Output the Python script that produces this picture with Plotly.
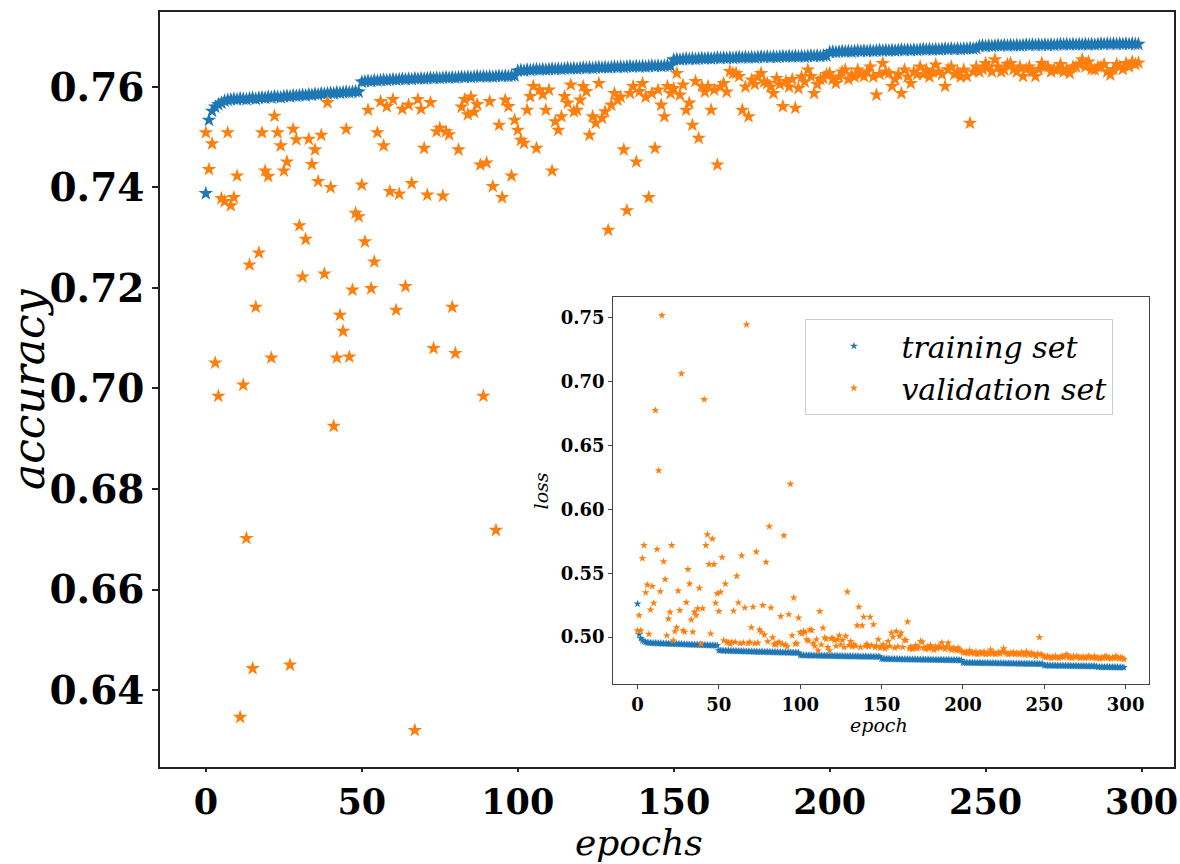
import plotly.graph_objects as go

epochs = list(range(300))

train_acc = [
0.7388, 0.7534, 0.7552, 0.7560, 0.7565, 0.7568, 0.7572, 0.7574, 0.7575, 0.7576,
0.7575, 0.7577, 0.7576, 0.7575, 0.7577, 0.7578, 0.7576, 0.7578, 0.7579, 0.7578,
0.7580, 0.7579, 0.7581, 0.7580, 0.7579, 0.7581, 0.7582, 0.7581, 0.7583, 0.7582,
0.7583, 0.7584, 0.7583, 0.7585, 0.7584, 0.7586, 0.7585, 0.7587, 0.7586, 0.7587,
0.7588, 0.7587, 0.7589, 0.7588, 0.7589, 0.7590, 0.7589, 0.7590, 0.7591, 0.7590,
0.7610, 0.7611, 0.7612, 0.7611, 0.7613, 0.7612, 0.7613, 0.7614, 0.7613, 0.7614,
0.7615, 0.7614, 0.7615, 0.7616, 0.7615, 0.7616, 0.7615, 0.7617, 0.7616, 0.7617,
0.7616, 0.7617, 0.7618, 0.7617, 0.7618, 0.7617, 0.7618, 0.7619, 0.7618, 0.7619,
0.7618, 0.7619, 0.7620, 0.7619, 0.7620, 0.7619, 0.7620, 0.7621, 0.7620, 0.7621,
0.7620, 0.7621, 0.7620, 0.7621, 0.7622, 0.7621, 0.7622, 0.7621, 0.7622, 0.7622,
0.7632, 0.7633, 0.7632, 0.7634, 0.7633, 0.7634, 0.7635, 0.7634, 0.7635, 0.7634,
0.7635, 0.7636, 0.7635, 0.7636, 0.7635, 0.7636, 0.7637, 0.7636, 0.7637, 0.7636,
0.7637, 0.7638, 0.7637, 0.7638, 0.7637, 0.7638, 0.7639, 0.7638, 0.7639, 0.7638,
0.7639, 0.7640, 0.7639, 0.7640, 0.7639, 0.7640, 0.7641, 0.7640, 0.7641, 0.7640,
0.7641, 0.7640, 0.7641, 0.7642, 0.7641, 0.7642, 0.7641, 0.7642, 0.7643, 0.7642,
0.7654, 0.7655, 0.7654, 0.7655, 0.7656, 0.7655, 0.7656, 0.7655, 0.7656, 0.7657,
0.7656, 0.7657, 0.7656, 0.7657, 0.7658, 0.7657, 0.7658, 0.7657, 0.7658, 0.7657,
0.7658, 0.7659, 0.7658, 0.7659, 0.7658, 0.7659, 0.7658, 0.7659, 0.7660, 0.7659,
0.7660, 0.7659, 0.7660, 0.7659, 0.7660, 0.7661, 0.7660, 0.7661, 0.7660, 0.7661,
0.7660, 0.7661, 0.7660, 0.7661, 0.7662, 0.7661, 0.7662, 0.7661, 0.7662, 0.7662,
0.7669, 0.7670, 0.7669, 0.7670, 0.7671, 0.7670, 0.7671, 0.7670, 0.7671, 0.7672,
0.7671, 0.7672, 0.7671, 0.7672, 0.7671, 0.7672, 0.7673, 0.7672, 0.7673, 0.7672,
0.7673, 0.7672, 0.7673, 0.7674, 0.7673, 0.7674, 0.7673, 0.7674, 0.7673, 0.7674,
0.7675, 0.7674, 0.7675, 0.7674, 0.7675, 0.7674, 0.7675, 0.7676, 0.7675, 0.7676,
0.7675, 0.7676, 0.7675, 0.7676, 0.7676, 0.7677, 0.7676, 0.7677, 0.7681, 0.7682,
0.7681, 0.7682, 0.7681, 0.7682, 0.7683, 0.7682, 0.7683, 0.7682, 0.7683, 0.7682,
0.7683, 0.7682, 0.7683, 0.7684, 0.7683, 0.7684, 0.7683, 0.7684, 0.7683, 0.7684,
0.7683, 0.7684, 0.7683, 0.7684, 0.7685, 0.7684, 0.7685, 0.7684, 0.7685, 0.7684,
0.7685, 0.7684, 0.7685, 0.7684, 0.7685, 0.7684, 0.7685, 0.7686, 0.7685, 0.7686,
0.7685, 0.7686, 0.7685, 0.7686, 0.7685, 0.7686, 0.7685, 0.7686, 0.7685, 0.7685,
]

val_acc = [
0.7509, 0.7436, 0.7487, 0.7051, 0.6985, 0.7378, 0.7372, 0.7509, 0.7364, 0.7380,
0.7423, 0.6346, 0.7007, 0.6702, 0.7246, 0.6443, 0.7162, 0.7270, 0.7509, 0.7433,
0.7422, 0.7061, 0.7542, 0.7509, 0.7483, 0.7433, 0.7451, 0.6450, 0.7516, 0.7495,
0.7324, 0.7222, 0.7297, 0.7496, 0.7446, 0.7475, 0.7412, 0.7504, 0.7228, 0.7569,
0.7400, 0.6925, 0.7061, 0.7146, 0.7114, 0.7516, 0.7063, 0.7196, 0.7349, 0.7342,
0.7405, 0.7292, 0.7554, 0.7199, 0.7252, 0.7509, 0.7571, 0.7483, 0.7561, 0.7392,
0.7575, 0.7156, 0.7387, 0.7556, 0.7203, 0.7564, 0.7408, 0.6320, 0.7575, 0.7556,
0.7478, 0.7385, 0.7569, 0.7080, 0.7511, 0.7518, 0.7383, 0.7511, 0.7505, 0.7162,
0.7070, 0.7475, 0.7560, 0.7575, 0.7545, 0.7580, 0.7550, 0.7565, 0.7445, 0.6985,
0.7449, 0.7571, 0.7402, 0.6718, 0.7524, 0.7380, 0.7574, 0.7561, 0.7423, 0.7534,
0.7514, 0.7494, 0.7488, 0.7554, 0.7581, 0.7601, 0.7478, 0.7594, 0.7585, 0.7554,
0.7594, 0.7433, 0.7531, 0.7514, 0.7541, 0.7581, 0.7568, 0.7604, 0.7551, 0.7554,
0.7574, 0.7601, 0.7591, 0.7504, 0.7541, 0.7528, 0.7607, 0.7538, 0.7551, 0.7315,
0.7564, 0.7587, 0.7574, 0.7580, 0.7475, 0.7354, 0.7587, 0.7601, 0.7451, 0.7591,
0.7607, 0.7580, 0.7380, 0.7587, 0.7478, 0.7594, 0.7564, 0.7541, 0.7601, 0.7587,
0.7597, 0.7627, 0.7584, 0.7604, 0.7554, 0.7568, 0.7524, 0.7611, 0.7498, 0.7601,
0.7590, 0.7601, 0.7554, 0.7594, 0.7445, 0.7600, 0.7607, 0.7590, 0.7631, 0.7627,
0.7627, 0.7621, 0.7554, 0.7600, 0.7541, 0.7614, 0.7605, 0.7620, 0.7627, 0.7610,
0.7607, 0.7600, 0.7587, 0.7617, 0.7605, 0.7561, 0.7611, 0.7600, 0.7615, 0.7558,
0.7597, 0.7620, 0.7610, 0.7634, 0.7621, 0.7587, 0.7605, 0.7615, 0.7617, 0.7625,
0.7627, 0.7615, 0.7607, 0.7620, 0.7630, 0.7634, 0.7615, 0.7624, 0.7620, 0.7634,
0.7625, 0.7621, 0.7630, 0.7640, 0.7620, 0.7584, 0.7625, 0.7647, 0.7630, 0.7627,
0.7601, 0.7615, 0.7625, 0.7587, 0.7634, 0.7620, 0.7607, 0.7630, 0.7625, 0.7640,
0.7625, 0.7634, 0.7620, 0.7630, 0.7644, 0.7630, 0.7625, 0.7601, 0.7635, 0.7640,
0.7625, 0.7630, 0.7620, 0.7634, 0.7621, 0.7528, 0.7630, 0.7640, 0.7630, 0.7635,
0.7647, 0.7640, 0.7630, 0.7654, 0.7640, 0.7630, 0.7634, 0.7645, 0.7647, 0.7635,
0.7630, 0.7640, 0.7621, 0.7635, 0.7640, 0.7630, 0.7621, 0.7635, 0.7647, 0.7640,
0.7640, 0.7630, 0.7635, 0.7634, 0.7645, 0.7630, 0.7635, 0.7627, 0.7640, 0.7640,
0.7645, 0.7654, 0.7640, 0.7650, 0.7635, 0.7634, 0.7640, 0.7640, 0.7645, 0.7630,
0.7624, 0.7635, 0.7645, 0.7640, 0.7635, 0.7647, 0.7640, 0.7650, 0.7645, 0.7648,
]

train_loss = [
0.5260, 0.5020, 0.4990, 0.4975, 0.4965, 0.4960, 0.4957, 0.4955, 0.4954, 0.4953,
0.4952, 0.4953, 0.4951, 0.4950, 0.4951, 0.4949, 0.4950, 0.4948, 0.4949, 0.4947,
0.4948, 0.4946, 0.4947, 0.4945, 0.4946, 0.4945, 0.4944, 0.4945, 0.4943, 0.4944,
0.4942, 0.4943, 0.4941, 0.4942, 0.4940, 0.4941, 0.4939, 0.4940, 0.4938, 0.4939,
0.4937, 0.4938, 0.4936, 0.4937, 0.4935, 0.4936, 0.4934, 0.4935, 0.4933, 0.4934,
0.4895, 0.4894, 0.4895, 0.4893, 0.4894, 0.4892, 0.4893, 0.4891, 0.4892, 0.4890,
0.4891, 0.4890, 0.4889, 0.4890, 0.4888, 0.4889, 0.4888, 0.4887, 0.4888, 0.4886,
0.4887, 0.4886, 0.4885, 0.4886, 0.4885, 0.4884, 0.4885, 0.4884, 0.4883, 0.4884,
0.4883, 0.4882, 0.4883, 0.4882, 0.4881, 0.4882, 0.4881, 0.4880, 0.4881, 0.4880,
0.4879, 0.4880, 0.4879, 0.4878, 0.4879, 0.4878, 0.4877, 0.4878, 0.4877, 0.4876,
0.4858, 0.4857, 0.4858, 0.4856, 0.4857, 0.4856, 0.4857, 0.4855, 0.4856, 0.4855,
0.4856, 0.4855, 0.4854, 0.4855, 0.4854, 0.4853, 0.4854, 0.4853, 0.4852, 0.4853,
0.4852, 0.4851, 0.4852, 0.4851, 0.4850, 0.4851, 0.4850, 0.4849, 0.4850, 0.4849,
0.4850, 0.4849, 0.4848, 0.4849, 0.4848, 0.4849, 0.4848, 0.4847, 0.4848, 0.4847,
0.4848, 0.4847, 0.4846, 0.4847, 0.4846, 0.4847, 0.4846, 0.4845, 0.4846, 0.4845,
0.4830, 0.4829, 0.4830, 0.4828, 0.4829, 0.4828, 0.4827, 0.4828, 0.4827, 0.4826,
0.4827, 0.4826, 0.4827, 0.4825, 0.4826, 0.4825, 0.4826, 0.4825, 0.4824, 0.4825,
0.4824, 0.4825, 0.4824, 0.4823, 0.4824, 0.4823, 0.4824, 0.4823, 0.4822, 0.4823,
0.4822, 0.4823, 0.4822, 0.4821, 0.4822, 0.4821, 0.4822, 0.4821, 0.4820, 0.4821,
0.4820, 0.4821, 0.4820, 0.4819, 0.4820, 0.4819, 0.4820, 0.4819, 0.4818, 0.4819,
0.4800, 0.4799, 0.4800, 0.4798, 0.4799, 0.4798, 0.4799, 0.4797, 0.4798, 0.4797,
0.4798, 0.4797, 0.4796, 0.4797, 0.4796, 0.4797, 0.4796, 0.4795, 0.4796, 0.4795,
0.4796, 0.4795, 0.4794, 0.4795, 0.4794, 0.4795, 0.4794, 0.4793, 0.4794, 0.4793,
0.4794, 0.4793, 0.4792, 0.4793, 0.4792, 0.4793, 0.4792, 0.4791, 0.4792, 0.4791,
0.4792, 0.4791, 0.4790, 0.4791, 0.4790, 0.4791, 0.4790, 0.4789, 0.4790, 0.4789,
0.4778, 0.4777, 0.4778, 0.4776, 0.4777, 0.4776, 0.4777, 0.4775, 0.4776, 0.4775,
0.4776, 0.4775, 0.4774, 0.4775, 0.4774, 0.4775, 0.4774, 0.4773, 0.4774, 0.4773,
0.4774, 0.4773, 0.4772, 0.4773, 0.4772, 0.4773, 0.4772, 0.4771, 0.4772, 0.4771,
0.4772, 0.4771, 0.4770, 0.4765, 0.4766, 0.4765, 0.4764, 0.4765, 0.4764, 0.4765,
0.4764, 0.4763, 0.4764, 0.4763, 0.4764, 0.4763, 0.4762, 0.4763, 0.4762, 0.4762,
]

val_loss = [
0.5050, 0.5170, 0.5050, 0.5617, 0.5719, 0.5349, 0.5409, 0.5023, 0.5214, 0.5398,
0.5266, 0.6776, 0.5688, 0.6304, 0.5357, 0.7520, 0.5592, 0.5452, 0.5012, 0.5143,
0.5196, 0.5719, 0.4973, 0.5044, 0.5075, 0.5362, 0.5209, 0.7064, 0.5050, 0.5040,
0.5272, 0.5530, 0.5417, 0.5136, 0.5040, 0.5196, 0.5170, 0.5223, 0.5384, 0.4947,
0.5223, 0.6862, 0.5719, 0.5803, 0.5570, 0.5026, 0.5769, 0.5570, 0.5266, 0.5340,
0.5201, 0.5352, 0.5625, 0.4973, 0.5417, 0.4960, 0.4955, 0.4947, 0.4960, 0.5204,
0.4960, 0.5478, 0.5269, 0.4950, 0.5638, 0.4955, 0.5230, 0.7448, 0.4950, 0.4960,
0.5075, 0.5236, 0.4950, 0.5667, 0.4955, 0.5057, 0.5040, 0.5248, 0.5017, 0.5587,
0.4965, 0.5866, 0.5230, 0.4996, 0.4945, 0.4940, 0.4950, 0.4960, 0.5162, 0.4945,
0.5795, 0.4940, 0.4925, 0.5177, 0.6198, 0.5012, 0.5308, 0.4947, 0.4950, 0.5151,
0.5037, 0.5026, 0.5045, 0.5036, 0.4981, 0.4970, 0.5058, 0.5053, 0.4950, 0.4930,
0.4981, 0.4895, 0.5201, 0.4940, 0.5071, 0.4995, 0.4985, 0.4920, 0.4895, 0.4990,
0.4990, 0.4975, 0.4930, 0.4980, 0.5012, 0.4940, 0.4975, 0.4920, 0.5007, 0.5354,
0.4935, 0.4967, 0.4925, 0.4941, 0.4930, 0.5090, 0.5236, 0.4920, 0.5090, 0.5157,
0.4930, 0.4945, 0.4925, 0.5157, 0.4935, 0.5098, 0.4920, 0.4930, 0.4981, 0.4915,
0.4925, 0.4941, 0.4910, 0.4920, 0.4967, 0.4930, 0.5033, 0.5000, 0.4915, 0.5045,
0.4925, 0.5007, 0.5033, 0.4920, 0.4976, 0.4975, 0.5119, 0.4910, 0.4925, 0.4905,
0.4915, 0.4935, 0.4910, 0.4920, 0.4967, 0.4960, 0.4915, 0.4905, 0.4925, 0.4910,
0.4935, 0.4915, 0.4900, 0.4925, 0.4910, 0.4930, 0.4915, 0.4956, 0.4920, 0.4905,
0.4925, 0.4955, 0.4910, 0.4900, 0.4915, 0.4905, 0.4895, 0.4915, 0.4900, 0.4890,
0.4880, 0.4875, 0.4885, 0.4870, 0.4895, 0.4875, 0.4880, 0.4870, 0.4885, 0.4865,
0.4875, 0.4880, 0.4870, 0.4885, 0.4865, 0.4875, 0.4870, 0.4900, 0.4870, 0.4880,
0.4865, 0.4875, 0.4880, 0.4870, 0.4885, 0.4910, 0.4880, 0.4870, 0.4865, 0.4875,
0.4870, 0.4880, 0.4865, 0.4875, 0.4870, 0.4865, 0.4880, 0.4870, 0.4860, 0.4885,
0.4870, 0.4860, 0.4875, 0.4865, 0.4860, 0.4849, 0.4870, 0.4998, 0.4865, 0.4855,
0.4845, 0.4840, 0.4850, 0.4845, 0.4835, 0.4845, 0.4840, 0.4850, 0.4840, 0.4835,
0.4845, 0.4850, 0.4840, 0.4855, 0.4862, 0.4840, 0.4845, 0.4835, 0.4850, 0.4840,
0.4850, 0.4845, 0.4835, 0.4840, 0.4845, 0.4835, 0.4840, 0.4850, 0.4845, 0.4835,
0.4840, 0.4850, 0.4835, 0.4840, 0.4830, 0.4840, 0.4835, 0.4845, 0.4850, 0.4835,
0.4840, 0.4830, 0.4840, 0.4835, 0.4850, 0.4840, 0.4830, 0.4840, 0.4835, 0.4825,
]

main_xticks = [0, 50, 100, 150, 200, 250, 300]
main_yticks = [0.64, 0.66, 0.68, 0.70, 0.72, 0.74, 0.76]
inset_yticks = [0.50, 0.55, 0.60, 0.65, 0.70, 0.75]

BLUE = "#1f77b4"
ORANGE = "#ff7f0e"
SERIF = "DejaVu Serif"

fig = go.Figure()
fig.add_trace(go.Scatter(x=epochs, y=train_acc, mode="markers", showlegend=False,
                         marker=dict(symbol="star", size=11, color=BLUE, line=dict(width=0)),
                         xaxis="x", yaxis="y"))
fig.add_trace(go.Scatter(x=epochs, y=val_acc, mode="markers", showlegend=False,
                         marker=dict(symbol="star", size=11, color=ORANGE, line=dict(width=0)),
                         xaxis="x", yaxis="y"))
fig.add_trace(go.Scatter(x=epochs, y=train_loss, mode="markers", name="training set",
                         marker=dict(symbol="star", size=6, color=BLUE, line=dict(width=0)),
                         xaxis="x2", yaxis="y2"))
fig.add_trace(go.Scatter(x=epochs, y=val_loss, mode="markers", name="validation set",
                         marker=dict(symbol="star", size=6, color=ORANGE, line=dict(width=0)),
                         xaxis="x2", yaxis="y2"))

axis_common = dict(showgrid=False, zeroline=False, showline=True, mirror=True, ticks="outside",
                   ticklabeloverflow="allow")

fig.update_layout(
    width=1180, height=864,
    margin=dict(l=160, r=2, t=12, b=97),
    paper_bgcolor="white", plot_bgcolor="white",
    font=dict(family=SERIF, color="black"),
    xaxis=dict(domain=[0, 1], range=[-14.7, 310.4], tickvals=main_xticks,
               linecolor="#222", linewidth=1.5, ticklen=3, tickwidth=1.5, tickcolor="#222",
               tickfont=dict(family=SERIF, size=35, weight="bold"), **axis_common),
    yaxis=dict(domain=[0, 1], range=[0.6247, 0.7749], tickvals=main_yticks, tickformat=".2f",
               linecolor="#222", linewidth=1.5, ticklen=6, tickwidth=1.5, tickcolor="#222",
               tickfont=dict(family=SERIF, size=39, weight="bold"), **axis_common),
    xaxis2=dict(domain=[0.447, 0.9754], anchor="y2", range=[-14.9, 314.4], tickvals=main_xticks,
                linecolor="#444", linewidth=1.2, ticklen=4, tickwidth=1, tickcolor="#444",
                tickfont=dict(family=SERIF, size=18, weight="bold"), **axis_common),
    yaxis2=dict(domain=[0.1099, 0.6225], anchor="x2", range=[0.4632, 0.7664], tickvals=inset_yticks,
                tickformat=".2f",
                linecolor="#444", linewidth=1.2, ticklen=4, tickwidth=1, tickcolor="#444",
                tickfont=dict(family=SERIF, size=18, weight="bold"), **axis_common),
    legend=dict(x=0.6365, y=0.5934, xanchor="left", yanchor="top",
                bgcolor="rgba(255,255,255,0.85)", bordercolor="#cccccc", borderwidth=1,
                font=dict(family=SERIF, size=30, style="italic"), itemwidth=85),
    annotations=[
        dict(text="accuracy", xref="paper", yref="paper", x=-0.1296, y=0.5, textangle=-90,
             xanchor="center", yanchor="middle",
             showarrow=False, font=dict(family=SERIF, size=44, style="italic")),
        dict(text="epochs", xref="paper", yref="paper", x=0.4725, y=-0.1285,
             xanchor="center", yanchor="bottom", borderpad=0,
             showarrow=False, font=dict(family=SERIF, size=36, style="italic")),
        dict(text="loss", xref="paper", yref="paper", x=0.3762, y=0.3656, textangle=-90,
             xanchor="center", yanchor="middle",
             showarrow=False, font=dict(family=SERIF, size=19, style="italic")),
        dict(text="epoch", xref="paper", yref="paper", x=0.7092, y=0.0556,
             xanchor="center", yanchor="middle",
             showarrow=False, font=dict(family=SERIF, size=19, style="italic")),
    ],
)

fig.write_html("out.html")
